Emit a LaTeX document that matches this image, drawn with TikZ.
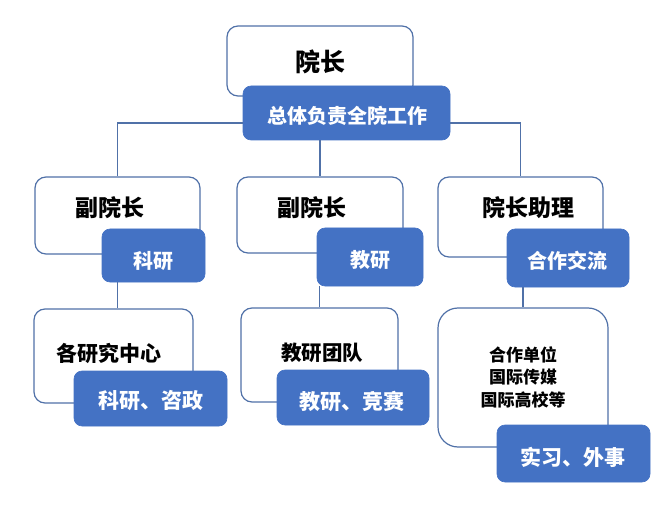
\documentclass[tikz,border=0pt]{standalone}
\usepackage{fontspec}
\newfontfamily\cjk{Noto Sans CJK SC}
\definecolor{boxblue}{HTML}{4472C4}
\definecolor{lineblue}{HTML}{5071A8}
\tikzset{
  wbox/.style={draw=lineblue, line width=1.2pt, fill=white, rounded corners=11pt, inner sep=0pt},
  bbox/.style={fill=boxblue, draw=boxblue, line width=0.6pt, rounded corners=8pt, inner sep=0pt},
  btext/.style={text=black, font=\cjk\bfseries, inner sep=0pt},
  wtext/.style={text=white, font=\cjk\bfseries\fontsize{20}{24}\selectfont, inner sep=0pt},
  conn/.style={draw=lineblue, line width=1.2pt}
}
\begin{document}
\begin{tikzpicture}[x=1pt,y=-1pt]
\useasboundingbox[fill=white] (0,0) rectangle (662,516);
% top
\node[wbox, minimum width=186pt, minimum height=70pt] (wTop) at (320,61) {};
\node[btext, font=\cjk\bfseries\fontsize{25}{30}\selectfont] (tTop) at (320,62) {院长};
\node[bbox, minimum width=207pt, minimum height=54pt] (bTop) at (346.5,113) {};
\node[wtext] (sTop) at (347,116) {总体负责全院工作};
% row 2
\node[wbox, minimum width=165pt, minimum height=77pt] (wL) at (117.5,215.5) {};
\node[wbox, minimum width=166pt, minimum height=76pt] (wM) at (320,215) {};
\node[wbox, minimum width=165pt, minimum height=80pt] (wR) at (520.5,217) {};
\node[btext, font=\cjk\bfseries\fontsize{23}{28}\selectfont] (tL) at (110,208) {副院长};
\node[btext, font=\cjk\bfseries\fontsize{23}{28}\selectfont] (tM) at (312,208) {副院长};
\node[btext, font=\cjk\bfseries\fontsize{23}{28}\selectfont] (tR) at (528,208) {院长助理};
\node[bbox, minimum width=103pt, minimum height=53pt] (bL) at (153.5,255.5) {};
\node[bbox, minimum width=106pt, minimum height=58pt] (bM) at (370,257) {};
\node[bbox, minimum width=122pt, minimum height=58pt] (bR) at (568,258) {};
\node[wtext] (sL) at (153,261) {科研};
\node[wtext] (sM) at (370,260) {教研};
\node[wtext] (sR) at (567,261) {合作交流};
% row 3
\node[wbox, minimum width=159pt, minimum height=94pt] (wL3) at (113.5,356) {};
\node[wbox, minimum width=157pt, minimum height=94pt] (wM3) at (319.5,355) {};
\node[wbox, rounded corners=20pt, minimum width=170pt, minimum height=139pt] (wR3) at (523,377.5) {};
\node[btext, font=\cjk\bfseries\fontsize{21}{25}\selectfont] (tL3) at (109,353) {各研究中心};
\node[btext, font=\cjk\bfseries\fontsize{20.5}{25}\selectfont] (tM3) at (322,353) {教研团队};
\node[btext, font=\cjk\bfseries\fontsize{17}{22.5}\selectfont, align=center] (tR3) at (523,377) {合作单位\\国际传媒\\国际高校等};
\node[bbox, minimum width=153pt, minimum height=55pt] (bL3) at (150.5,398.5) {};
\node[bbox, minimum width=152pt, minimum height=55pt] (bM3) at (353,397.5) {};
\node[bbox, minimum width=153pt, minimum height=57pt] (bR3) at (573.5,453.5) {};
\node[wtext, font=\cjk\bfseries\fontsize{21}{25}\selectfont] (sL3) at (151,401) {科研、咨政};
\node[wtext, font=\cjk\bfseries\fontsize{21}{25}\selectfont] (sM3) at (352,401) {教研、竞赛};
\node[wtext, font=\cjk\bfseries\fontsize{21}{25}\selectfont] (sR3) at (573,457) {实习、外事};
% connectors
\draw[conn] ([yshift=-10pt]bTop.west) -| (wL.north);
\draw[conn] ([yshift=-10pt]bTop.east) -| (wR.north);
\draw[conn] (wM.north |- bTop.south) -- (wM.north);
\draw[conn] (wL.south |- bL.south) -- (wL.south |- wL3.north);
\draw[conn] (wM3.north |- bM.south) -- (wM3.north);
\draw[conn] (wR3.north |- bR.south) -- (wR3.north);
\end{tikzpicture}
\end{document}
